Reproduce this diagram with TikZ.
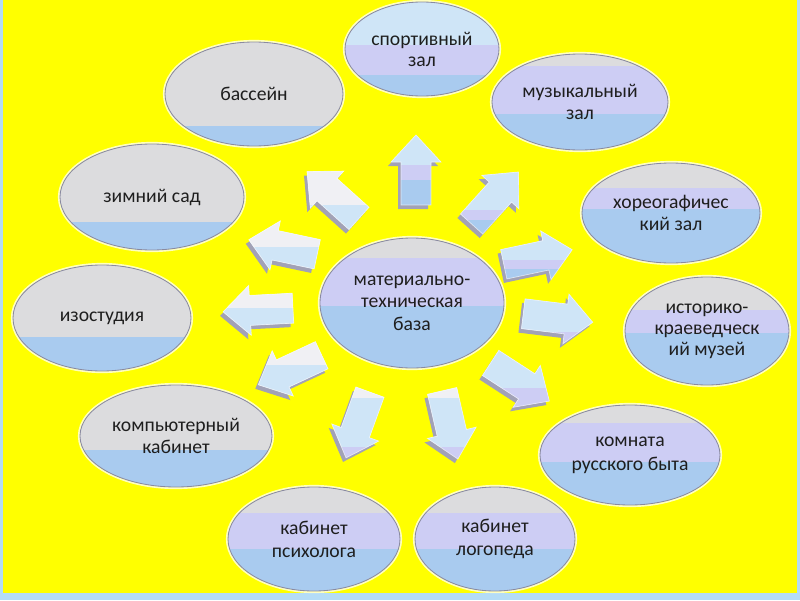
\documentclass[tikz,border=0pt]{standalone}
\usepackage{fontspec}
\setmainfont{Carlito}
\usetikzlibrary{shapes.geometric,calc}
\definecolor{bgyel}{HTML}{FFFF00}
\definecolor{frameb}{HTML}{B4DCF6}
\definecolor{ygray}{HTML}{DCDCDE}
\definecolor{lav}{HTML}{CDCDF4}
\definecolor{blu}{HTML}{A9CBEF}
\definecolor{lblu}{HTML}{CFE5F7}
\definecolor{awhite}{HTML}{F0F0F4}
\definecolor{ashadow}{HTML}{A2A2B6}
\definecolor{edgec}{HTML}{8A8AA0}
\definecolor{txtc}{HTML}{1E1E1E}
\tikzset{
  ell/.style={ellipse, inner sep=-10pt, outer sep=0pt, draw=edgec, line width=0.6pt,
    preaction={draw=white, opacity=0.75, line width=3pt},
    text=txtc, align=center, font=\fontsize{14pt}{16pt}\selectfont},
  sz/.style 2 args={minimum width=#1*0.5mm, minimum height=#2*0.5mm},
  lsp/.style={font=\fontsize{14pt}{#1}\selectfont},
  bands/.style n args={5}{path picture={
    \fill[#3] (path picture bounding box.south west) rectangle (path picture bounding box.north east);
    \fill[#2] (path picture bounding box.north west) rectangle ($(path picture bounding box.north east)!#5!(path picture bounding box.south east)$);
    \fill[#1] (path picture bounding box.north west) rectangle ($(path picture bounding box.north east)!#4!(path picture bounding box.south east)$);
  }},
}
\newcommand\arrpath{(-35,-15) -- (8,-15) -- (8,-25) -- (35,0) -- (8,25) -- (8,15) -- (-35,15) -- cycle}
\newcommand\blockarr[8]{%
  \fill[ashadow, shift={(#1-3,#2+4)}, rotate=#3] \arrpath;
  \begin{scope}
    \clip[shift={(#1,#2)}, rotate=#3] \arrpath;
    \fill[#6] (#1-50,#2-50) rectangle (#1+50,#2+50);
    \fill[#5] (#1-50,#2-50) rectangle (#1+50,#2+#8);
    \fill[#4] (#1-50,#2-50) rectangle (#1+50,#2+#7);
  \end{scope}
  \draw[white, opacity=0.6, line width=0.5pt, shift={(#1,#2)}, rotate=#3] \arrpath;
}
\begin{document}
\begin{tikzpicture}[x=0.25mm, y=-0.25mm]
\useasboundingbox (0,0) rectangle (800,600);
\fill[bgyel] (0,0) rectangle (800,600);
\fill[frameb] (0,0) rectangle (3,600);
\fill[frameb] (797,0) rectangle (800,600);
\fill[frameb] (0,593) rectangle (800,600);

% outer ellipses
\node[ell, bands={lblu}{lav}{blu}{0.46}{0.78}, sz={77}{47}, lsp=15pt] (sport) at (422,49) {спортивный\\зал};
\node[ell, bands={ygray}{lav}{blu}{0.12}{0.62}, sz={88}{48}, lsp=15.5pt] (music) at (580,102) {музыкальный\\зал};
\node[ell, bands={ygray}{lav}{blu}{0.25}{0.46}, sz={89}{50}, lsp=16pt] (choreo) at (671,213) {хореогафичес\\кий зал};
\node[ell, bands={ygray}{lav}{blu}{0.31}{0.52}, sz={82}{54}, lsp=15pt] (museum) at (707,331) {историко-\\краеведческ\\ий музей};
\node[ell, bands={ygray}{lav}{blu}{0.18}{0.57}, sz={90}{50}, lsp=17pt] (room) at (630,455) {комната\\русского быта};
\node[ell, bands={ygray}{lav}{blu}{0.25}{0.6}, sz={80}{52}, lsp=16.5pt] (logo) at (495,539) {кабинет\\логопеда};
\node[ell, bands={ygray}{lav}{blu}{0.25}{0.6}, sz={86}{52}, lsp=16.5pt] (psych) at (314,539) {кабинет\\психолога};
\node[ell, bands={ygray}{ygray}{blu}{0.64}{0.64}, sz={96}{51}, lsp=16pt] (comp) at (176,436) {компьютерный\\кабинет};
\node[ell, bands={ygray}{ygray}{blu}{0.68}{0.68}, sz={89}{53}] (izo) at (102,318) {изостудия};
\node[ell, bands={ygray}{ygray}{blu}{0.74}{0.74}, sz={92}{53}] (garden) at (152,197) {зимний сад};
\node[ell, bands={ygray}{ygray}{blu}{0.81}{0.81}, sz={89}{52}] (pool) at (254,94) {бассейн};

% centre
\node[ell, bands={ygray}{lav}{blu}{0.15}{0.52}, sz={92}{65}, lsp=16pt] (base) at (412,303) {материально-\\техническая\\база};

% block arrows: cx, cy, angle, top, mid, bottom, b1, b2
\blockarr{416}{170}{90}{lblu}{lav}{blu}{-5}{10}
\blockarr{495}{198}{48}{lblu}{lav}{blu}{12}{22}
\blockarr{538}{257}{12}{lblu}{lav}{blu}{3}{12}
\blockarr{558}{318}{-7}{lblu}{lav}{blu}{14}{30}
\blockarr{520}{382}{-33}{lblu}{lav}{lav}{6}{40}
\blockarr{450}{425}{-77}{awhite}{lblu}{lav}{-27}{22}
\blockarr{358}{425}{-110}{awhite}{lblu}{lav}{-27}{22}
\blockarr{290}{370}{-155}{awhite}{lblu}{lblu}{-5}{50}
\blockarr{258}{310}{183}{awhite}{lblu}{lblu}{-2}{50}
\blockarr{283}{247}{168}{awhite}{lblu}{lblu}{0}{50}
\blockarr{333}{195}{138}{awhite}{lblu}{lblu}{10}{50}
\end{tikzpicture}
\end{document}
